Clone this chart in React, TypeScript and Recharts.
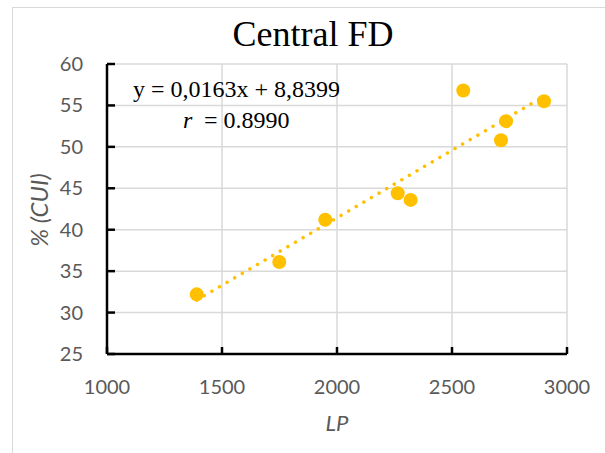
import React from 'react'
import { ScatterChart, Scatter, XAxis, YAxis, CartesianGrid, ReferenceLine } from 'recharts'

// LP vs % (CUI)
const lpValues = [1390, 1749, 1949, 2264, 2320, 2549, 2713, 2735, 2900]
const cuiValues = [32.2, 36.1, 41.2, 44.4, 43.6, 56.8, 50.8, 53.1, 55.5]

const xTicks = [1000, 1500, 2000, 2500, 3000]
const yTicks = [25, 30, 35, 40, 45, 50, 55, 60]

// trendline ends (y = 0,0163x + 8,8399)
const trendX = [1390, 2900]
const trendY = [31.5, 56.1]

const points = lpValues.map((x, i) => ({ x, y: cuiValues[i] }))

const GOLD = '#FFC000'
const LABEL_GRAY = '#595959'
const TICK_FONT = 'Lato, "Open Sans", sans-serif'

const YTick = (props: any) => {
  const { x, y, payload } = props
  return (
    <g>
      <line x1={x + 24} x2={x + 32} y1={y} y2={y} stroke="#000" strokeWidth={2.5} />
      <text x={x} y={y} dy={7} textAnchor="end" fill={LABEL_GRAY} fontSize={20} fontFamily={TICK_FONT}>
        {payload.value}
      </text>
    </g>
  )
}

const XTick = (props: any) => {
  const { x, y, payload } = props
  return (
    <g>
      <line x1={x} x2={x} y1={y - 24} y2={y - 31} stroke="#000" strokeWidth={2.5} />
      <text x={x} y={y} dy={16} textAnchor="middle" fill={LABEL_GRAY} fontSize={20} fontFamily={TICK_FONT}>
        {payload.value}
      </text>
    </g>
  )
}

const Dot = (props: any) => <circle cx={props.cx} cy={props.cy} r={7} fill={GOLD} />

export default function App() {
  return (
    <div style={{ position: 'absolute', left: 0, top: 0, width: 605, height: 453, overflow: 'hidden', background: '#fff' }}>
      {/* chart frame */}
      <div style={{ position: 'absolute', left: 12, top: 7, width: 640, height: 480, border: '1px solid #d9d9d9' }} />

      <div style={{ position: 'absolute', left: 0, top: 0 }}>
        <ScatterChart width={605} height={453} margin={{ top: 64, right: 38, bottom: 39, left: 57 }}>
          <CartesianGrid stroke="#d9d9d9" strokeWidth={1.5} />
          <XAxis
            type="number"
            dataKey="x"
            domain={[1000, 3000]}
            ticks={xTicks}
            height={60}
            tickSize={0}
            tickMargin={24}
            tickLine={false}
            axisLine={{ stroke: '#000', strokeWidth: 2.5 }}
            tick={<XTick />}
          />
          <YAxis
            type="number"
            dataKey="y"
            domain={[25, 60]}
            ticks={yTicks}
            width={50}
            tickSize={0}
            tickMargin={24}
            tickLine={false}
            axisLine={{ stroke: '#000', strokeWidth: 2.5 }}
            tick={<YTick />}
          />
          <ReferenceLine
            segment={[{ x: trendX[0], y: trendY[0] }, { x: trendX[1], y: trendY[1] }]}
            stroke={GOLD}
            strokeWidth={3.5}
            strokeDasharray="0.01 8.8"
            strokeLinecap="round"
          />
          <Scatter data={points} fill={GOLD} shape={<Dot />} isAnimationActive={false} />
        </ScatterChart>
      </div>

      {/* title, equation and axis titles */}
      <svg width={605} height={453} style={{ position: 'absolute', left: 0, top: 0, pointerEvents: 'none' }}>
        <text x={313} y={46} textAnchor="middle" fontSize={36} fontFamily='"Liberation Serif", serif' fill="#000">
          Central FD
        </text>
        <text x={133} y={97} fontSize={24} fontFamily='"Liberation Serif", serif' fill="#000">
          y = 0,0163x + 8,8399
        </text>
        <text x={183} y={128} fontSize={24} fontFamily='"Liberation Serif", serif' fill="#000">
          <tspan fontStyle="italic">r</tspan>
          <tspan x={204}>= 0.8990</tspan>
        </text>
        <text
          x={38}
          y={210}
          transform="rotate(-90 38 210)"
          textAnchor="middle"
          dominantBaseline="central"
          fontSize={24}
          fontStyle="italic"
          fontFamily={TICK_FONT}
          fill={LABEL_GRAY}
        >
          % (CUI)
        </text>
        <text x={337} y={431} textAnchor="middle" fontSize={22} fontStyle="italic" fontFamily={TICK_FONT} fill={LABEL_GRAY}>
          LP
        </text>
      </svg>
    </div>
  )
}
